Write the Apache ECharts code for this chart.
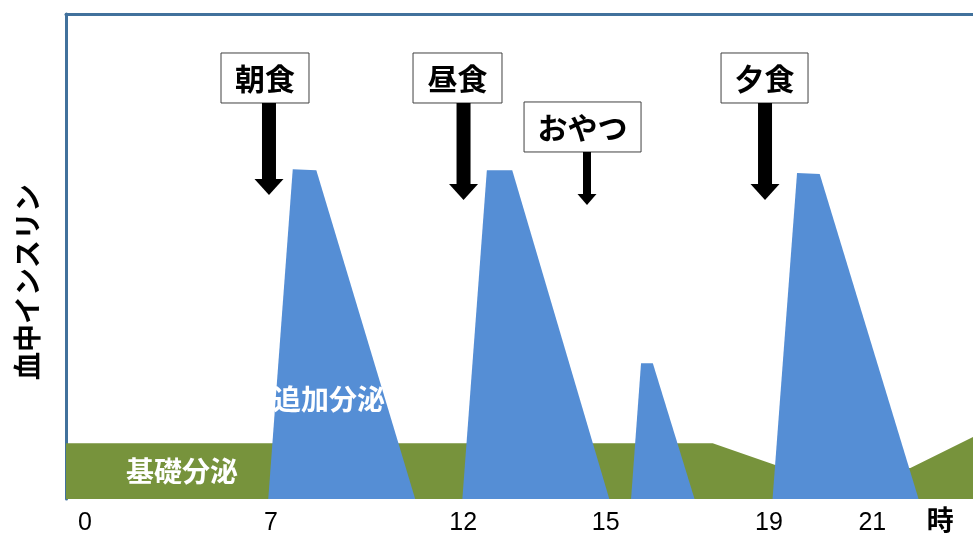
<!DOCTYPE html>
<html>
<head>
<meta charset="utf-8">
<script src="https://cdn.jsdelivr.net/npm/echarts@6/dist/echarts.min.js"></script>
<style>html,body{margin:0;padding:0;background:#fff}#c{width:973px;height:534px}</style>
</head>
<body>
<div id="c"></div>
<script>
// x positions in relative units (0..100 across the plot), y in relative insulin units (0..100)
const xTickPos = [2.1, 22.6, 43.8, 59.5, 77.5, 88.9, 96.4];
const xTickLabels = ['0', '7', '12', '15', '19', '21', '時'];

const basal = [[0, 11.5], [71.3, 11.5], [78.2, 7.0], [93.1, 6.4], [100, 12.8]];
const peakBreakfast = [[22.3, 0], [25.0, 68.0], [27.6, 67.8], [38.5, 0]];
const peakLunch = [[43.7, 0], [46.4, 67.8], [49.2, 67.8], [59.9, 0]];
const peakSnack = [[62.3, 0], [63.4, 28.0], [64.7, 28.0], [69.3, 0]];
const peakDinner = [[77.9, 0], [80.6, 67.2], [83.1, 67.0], [94.0, 0]];

const mealLabels = ['朝食', '昼食', 'おやつ', '夕食'];
const mealBoxLeft = [17.09, 38.26, 50.50, 72.22];
const mealBoxRight = [26.79, 48.07, 63.40, 81.81];
const mealBoxTop = [91.96, 91.96, 81.86, 91.96];
const mealBoxBottom = [81.65, 81.65, 71.55, 81.65];
const mealArrowX = [22.38, 43.83, 57.44, 77.07];
const mealArrowTip = [62.68, 61.65, 60.62, 61.65];

const areaLabels = ['追加分泌', '基礎分泌'];
const areaLabelPos = [[29.0, 20.6], [12.8, 5.6]];

const yTitle = '血中インスリン';

const CJK = '"Noto Sans CJK JP", sans-serif';
const BLUE = '#558ed5';
const GREEN = '#77933c';
const FRAME = '#41719c';

const chart = echarts.init(document.getElementById('c'), null, {renderer: 'canvas'});

function areaSeries(data, color, z) {
  return {
    type: 'line', data: data, symbol: 'none', z: z,
    lineStyle: {width: 0}, itemStyle: {color: color},
    areaStyle: {color: color, opacity: 1}, animation: false, silent: true
  };
}

const mealData = mealLabels.map((l, i) => [mealBoxLeft[i], mealBoxRight[i], mealBoxTop[i], mealBoxBottom[i], mealArrowX[i], mealArrowTip[i]]);

chart.setOption({
  animation: false,
  grid: {left: 66, right: 0, top: 14, bottom: 35, containLabel: false, outerBoundsMode: 'none'},
  xAxis: [{
    type: 'value', min: 0, max: 100,
    axisLine: {show: false}, axisTick: {show: false}, splitLine: {show: false},
    axisLabel: {
      customValues: xTickPos, margin: 12,
      fontFamily: '"Liberation Sans", sans-serif', fontSize: 25, color: '#000',
      formatter: function (v) {
        const i = xTickPos.indexOf(v);
        const t = i >= 0 ? xTickLabels[i] : '';
        return t === '時' ? '{b|' + t + '}' : t;
      },
      rich: {b: {fontFamily: CJK, fontWeight: 'bold', fontSize: 27, lineHeight: 17, color: '#000'}}
    }
  }, {
    type: 'value', min: 0, max: 100, position: 'top',
    axisLine: {show: true, lineStyle: {color: FRAME, width: 3}},
    axisTick: {show: false}, axisLabel: {show: false}, splitLine: {show: false}
  }],
  yAxis: {
    type: 'value', min: 0, max: 100,
    axisLine: {show: true, lineStyle: {color: FRAME, width: 3}},
    axisTick: {show: false}, axisLabel: {show: false}, splitLine: {show: false}
  },
  graphic: [{
    type: 'text', x: 27, y: 282, rotation: Math.PI / 2,
    style: {text: yTitle, font: 'bold 28px ' + CJK, fill: '#000', align: 'center', verticalAlign: 'middle'}
  }],
  series: [
    areaSeries(basal, GREEN, 2),
    areaSeries(peakBreakfast, BLUE, 3),
    areaSeries(peakLunch, BLUE, 3),
    areaSeries(peakSnack, BLUE, 3),
    areaSeries(peakDinner, BLUE, 3),
    {
      type: 'custom', z: 5, silent: true,
      data: areaLabelPos.map((p, i) => [p[0], p[1], i]),
      encode: {x: 0, y: 1},
      renderItem: function (params, api) {
        const p = api.coord([api.value(0), api.value(1)]);
        return {
          type: 'text',
          style: {text: areaLabels[params.dataIndex], x: p[0], y: p[1], align: 'center', verticalAlign: 'middle',
            font: 'bold 28px ' + CJK, fill: '#fff'}
        };
      }
    },
    {
      type: 'custom', z: 6, silent: true,
      data: mealData,
      encode: {x: [0, 1, 4], y: [2, 3, 5]},
      renderItem: function (params, api) {
        const i = params.dataIndex;
        const tl = api.coord([api.value(0), api.value(2)]);
        const br = api.coord([api.value(1), api.value(3)]);
        const a = api.coord([api.value(4), api.value(5)]);
        const snack = mealLabels[i] === 'おやつ';
        const sw = snack ? 8 : 14, hw = snack ? 19 : 29, hh = snack ? 11 : 16;
        return {
          type: 'group',
          children: [
            {type: 'rect', shape: {x: tl[0], y: tl[1], width: br[0] - tl[0], height: br[1] - tl[1]},
              style: {fill: '#fff', stroke: '#404040', lineWidth: 1}},
            {type: 'text', style: {text: mealLabels[i], x: (tl[0] + br[0]) / 2, y: (tl[1] + br[1]) / 2 + 1,
              align: 'center', verticalAlign: 'middle', font: 'bold 30px ' + CJK, fill: '#000'}},
            {type: 'rect', shape: {x: a[0] - sw / 2, y: br[1], width: sw, height: a[1] - hh - br[1]},
              style: {fill: '#000'}},
            {type: 'polygon', shape: {points: [[a[0] - hw / 2, a[1] - hh], [a[0] + hw / 2, a[1] - hh], [a[0], a[1]]]},
              style: {fill: '#000'}}
          ]
        };
      }
    }
  ]
});
</script>
</body>
</html>
